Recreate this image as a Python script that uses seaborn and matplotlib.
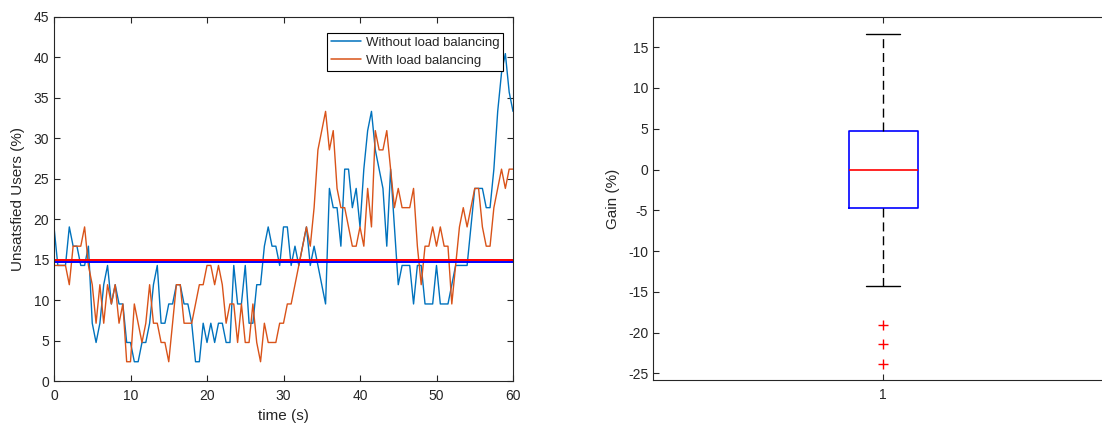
import numpy as np
import pandas as pd
import matplotlib
matplotlib.use("Agg")
import matplotlib.pyplot as plt
import seaborn as sns

# ---------------- data ----------------
N_USERS = 42  # unsatisfied-user counts are out of 42 users
time_s = np.arange(0, 60.5, 0.5)

unsat_without_cnt = [
    8, 6, 6, 6, 8, 7, 7, 6, 6, 7,
    3, 2, 3, 5, 6, 4, 5, 4, 4, 2,
    2, 1, 1, 2, 2, 3, 5, 6, 3, 3,
    4, 4, 5, 5, 4, 4, 3, 1, 1, 3,
    2, 3, 2, 3, 3, 2, 2, 6, 4, 4,
    6, 3, 3, 5, 5, 7, 8, 7, 7, 6,
    8, 8, 6, 7, 6, 7, 8, 6, 7, 6,
    5, 4, 10, 9, 9, 7, 11, 11, 9, 10,
    8, 11, 13, 14, 12, 11, 10, 7, 11, 8,
    5, 6, 6, 6, 4, 6, 6, 4, 4, 4,
    6, 4, 4, 4, 5, 6, 6, 6, 6, 8,
    10, 10, 10, 9, 9, 11, 14, 16, 17, 15,
    14,
]
unsat_with_cnt = [
    6, 6, 6, 6, 5, 7, 7, 7, 8, 6,
    5, 3, 5, 3, 5, 4, 5, 3, 4, 1,
    1, 4, 3, 2, 3, 5, 3, 3, 2, 2,
    1, 3, 5, 5, 3, 3, 3, 4, 5, 5,
    6, 6, 5, 6, 5, 3, 4, 4, 2, 4,
    2, 2, 4, 2, 1, 3, 2, 2, 2, 3,
    3, 4, 4, 5, 6, 7, 8, 7, 9, 12,
    13, 14, 12, 13, 10, 9, 9, 8, 7, 7,
    8, 7, 10, 8, 13, 12, 12, 13, 11, 9,
    10, 9, 9, 9, 10, 7, 5, 7, 7, 8,
    7, 8, 7, 7, 4, 6, 8, 9, 8, 9,
    10, 10, 8, 7, 7, 9, 10, 11, 10, 11,
    11,
]
mean_without = 14.65
mean_with = 14.9

series_labels = ["Without load balancing", "With load balancing"]

gain_pct = [-23.81, -21.43, -19.05, -14.29, -9.52, -4.76, -4.76, -2.38, -2.38,
            0.0, 0.0, 0.0, 2.38, 2.38, 4.76, 4.76, 7.14, 9.52, 11.90, 14.29, 16.67]

# ---------------- style ----------------
sns.set_style("ticks")
plt.rcParams["font.family"] = ["Liberation Sans", "DejaVu Sans"]
AX_COL = "#262626"
plt.rcParams.update({
    "axes.edgecolor": AX_COL, "xtick.color": AX_COL, "ytick.color": AX_COL,
    "axes.labelcolor": AX_COL, "text.color": AX_COL, "axes.linewidth": 0.8,
    "axes.unicode_minus": False,
})

C_BLUE = "#0072BD"
C_ORANGE = "#D95319"

fig = plt.figure(figsize=(11.02, 4.23), dpi=100)
ax1 = fig.add_axes([54 / 1102, 42 / 423, 459 / 1102, 364 / 423])
ax2 = fig.add_axes([653 / 1102, 43 / 423, 460 / 1102, 363 / 423])

# ---------------- left: time series ----------------
df = pd.DataFrame({
    "t": np.concatenate([time_s, time_s]),
    "pct": np.concatenate([np.array(unsat_without_cnt) * 100 / N_USERS,
                           np.array(unsat_with_cnt) * 100 / N_USERS]),
    "series": [series_labels[0]] * len(time_s) + [series_labels[1]] * len(time_s),
})
sns.lineplot(data=df, x="t", y="pct", hue="series", palette=[C_BLUE, C_ORANGE],
             ax=ax1, linewidth=1.0, legend=True)
ax1.axhline(mean_with, color="red", linewidth=1.4)
ax1.axhline(mean_without, color="blue", linewidth=1.4)

ax1.set_xlim(0, 60)
ax1.set_ylim(0, 45)
ax1.set_xticks(range(0, 61, 10))
ax1.set_yticks(range(0, 46, 5))
ax1.set_xlabel("time (s)", fontsize=11, labelpad=4)
ax1.set_ylabel("Unsatsfied Users (%)", fontsize=11, labelpad=6)
ax1.tick_params(direction="in", top=True, right=True, length=4, labelsize=10, width=0.8)
ax1.tick_params(axis="x", pad=6)
for s in ax1.spines.values():
    s.set_visible(True)
leg = ax1.legend(loc="upper right", bbox_to_anchor=(0.979, 0.957), fontsize=9.5,
                 frameon=True, fancybox=False, edgecolor="black", framealpha=1,
                 borderpad=0.3, handlelength=2.3, handletextpad=0.35, labelspacing=0.45,
                 borderaxespad=0)
leg.get_frame().set_linewidth(0.8)
for line in leg.get_lines():
    line.set_linewidth(1.1)

# ---------------- right: box plot ----------------
sns.boxplot(y=gain_pct, ax=ax2, width=0.15, whis=1.4, fill=False,
            linewidth=1.0,
            boxprops=dict(color="blue", linewidth=1.2),
            medianprops=dict(color="red", linewidth=1.2),
            whiskerprops=dict(color="black", linestyle=(0, (6.5, 3.5)), linewidth=1.0),
            capprops=dict(color="black", linewidth=1.0),
            flierprops=dict(marker="+", markeredgecolor="red", markerfacecolor="red",
                            markersize=6.5, markeredgewidth=1.0))
ax2.set_xlim(-0.5, 0.5)
ax2.set_ylim(-25.8, 18.7)
ax2.set_yticks(range(-25, 16, 5))
ax2.set_xticks([0])
ax2.set_xticklabels(["1"])
ax2.set_xlabel("")
ax2.set_ylabel("Gain (%)", fontsize=11, labelpad=6)
ax2.tick_params(direction="in", top=True, right=True, length=4, labelsize=10, width=0.8)
ax2.tick_params(axis="x", pad=6)
for s in ax2.spines.values():
    s.set_visible(True)

fig.savefig("out.png", dpi=100)
